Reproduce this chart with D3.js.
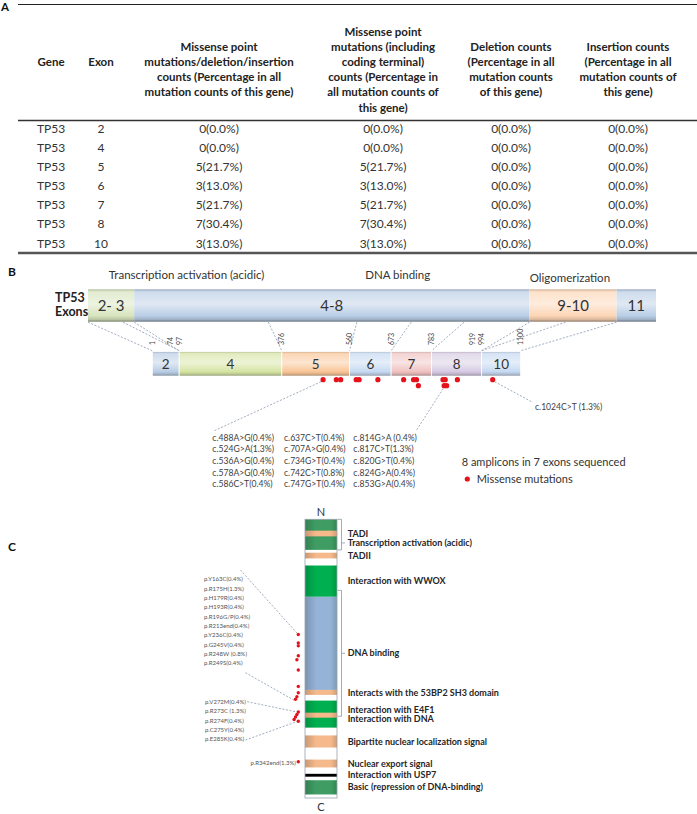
<!DOCTYPE html>
<html><head><meta charset="utf-8">
<script src="https://cdn.jsdelivr.net/npm/d3@7"></script>
<style>
body{margin:0;background:#fff;}
svg{display:block;font-family:Lato,"Liberation Sans",sans-serif;}
</style></head><body>
<svg id="chart" width="697" height="814"></svg>
<script>
// ================= DATA =================
// Panel A table
const tableHeaders = [
  ["Gene"], ["Exon"],
  ["Missense point","mutations/deletion/insertion","counts (Percentage in all","mutation counts of this gene)"],
  ["Missense point","mutations (including","coding terminal)","counts (Percentage in","all mutation counts of","this gene)"],
  ["Deletion counts","(Percentage in all","mutation counts","of this gene)"],
  ["Insertion counts","(Percentage in all","mutation counts of","this gene)"]
];
const tableGenes = ["TP53","TP53","TP53","TP53","TP53","TP53","TP53"];
const tableExons = ["2","4","5","6","7","8","10"];
const missenseDelInsCounts = [0,0,5,3,5,7,3];
const missenseInclTerminalCounts = [0,0,5,3,5,7,3];
const deletionCounts = [0,0,0,0,0,0,0];
const insertionCounts = [0,0,0,0,0,0,0];
const totalMutations = 23;

// Panel B
const domainTitles = ["Transcription activation (acidic)","DNA binding","Oligomerization"];
const domainTitleCenters = [206, 645, 1003];           // nucleotide position of title centre
const topSegLabels = ["2- 3","4-8","9-10","11"];
const topSegStarts = [1, 97, 919, 1100];
const topSegEnds   = [97, 919, 1100, 1182];
const exonLabels = ["2","4","5","6","7","8","10"];
const exonStarts = [1, 97, 376, 560, 673, 783, 994];
const exonEnds   = [74, 376, 560, 673, 783, 919, 1100];
const boundaryTicks = [1, 74, 97, 376, 560, 673, 783, 919, 994, 1100];
const cdnaMutPositions = [488,524,536,578,586,637,707,734,742,747,814,817,820,824,853,1024];
const cdnaMutLabels = ["c.488A>G(0.4%)","c.524G>A(1.3%)","c.536A>G(0.4%)","c.578A>G(0.4%)","c.586C>T(0.4%)",
  "c.637C>T(0.4%)","c.707A>G(0.4%)","c.734G>T(0.4%)","c.742C>T(0.8%)","c.747G>T(0.4%)",
  "c.814G>A (0.4%)","c.817C>T(1.3%)","c.820G>T(0.4%)","c.824G>A(0.4%)","c.853G>A(0.4%)",
  "c.1024C>T (1.3%)"];
const legendTexts = ["8 amplicons in 7 exons sequenced","Missense mutations"];

// Panel C
const proteinLength = 393;
const bandStarts = [1, 17, 48, 66, 110, 241, 256, 273, 305, 339, 359, 368];
const bandEnds   = [44, 25, 56, 110, 241, 248, 294, 280, 322, 350, 363, 388];
const bandTypes  = ["tad","motif","motif","bright","dna","motif","bright","motif","motif","motif","usp7","tad"];
const featureLabels = ["TADI","TADII","Interaction with WWOX","Interacts with the 53BP2 SH3 domain",
  "Interaction with E4F1","Interaction with DNA","Bipartite nuclear localization signal",
  "Nuclear export signal","Interaction with USP7","Basic (repression of DNA-binding)"];
const featureStarts = [17, 48, 66, 241, 256, 273, 305, 339, 359, 368];
const featureEnds   = [25, 56, 110, 248, 294, 280, 322, 350, 363, 388];
const bracketLabels = ["Transcription activation (acidic)","DNA binding"];
const bracketStarts = [1, 101];
const bracketEnds   = [44, 278];
const proteinMutLabels = ["p.Y163C(0.4%)","p.R175H(1.3%)","p.H179R(0.4%)","p.H193R(0.4%)","p.R196G/P(0.4%)",
  "p.R213end(0.4%)","p.Y236C(0.4%)","p.G245V(0.4%)","p.R248W (0.8%)","p.R249S(0.4%)",
  "p.V272M(0.4%)","p.R273C (1.3%)","p.R274F(0.4%)","p.C275Y(0.4%)","p.E285K(0.4%)","p.R342end(1.3%)"];
const proteinMutPositions = [163,175,179,193,196,213,236,245,248,249,272,273,274,275,285,342];

// ================= STYLE =================
const topColors  = ["#d7e4bd","#b9cde5","#fcd5b5","#b9cde5"];
const exonColors = ["#b9cde5","#d5e4a3","#f9c596","#c6d9f1","#efc2c1","#d6cae3","#c6d9f1"];
const bandColors = {tad:"#3f9d63", motif:"#f6b98c", bright:"#00b050", dna:"#95b3d7", usp7:"#000000"};
const RED = "#e3121b", DASH = "#8898b0", TXT = "#333";

// ================= DRAW =================
const svg = d3.select("#chart");
const defs = svg.append("defs");
function glossy(id, c){
  const g = defs.append("linearGradient").attr("id",id).attr("x1",0).attr("y1",0).attr("x2",0).attr("y2",1);
  const base = d3.color(c), light = d3.interpolateRgb(c,"#ffffff");
  [[0, base.darker(0.5)],[0.08, light(0.3)],[0.45, light(0.55)],[0.82, base],[0.93, base.darker(0.4)],[1, base.darker(1.6)]]
    .forEach(([o,col]) => g.append("stop").attr("offset",o).attr("stop-color",col));
}
const fmt = c => `${c}(${(c/totalMutations*100).toFixed(1)}%)`;

// ---------- Panel A ----------
svg.append("text").attr("x",1).attr("y",6.5).attr("dy","0.35em").attr("font-weight","bold").attr("font-size",11.5).attr("fill","#111").text("A");
svg.append("line").attr("x1",18).attr("x2",697).attr("y1",4.5).attr("y2",4.5).attr("stroke","#222").attr("stroke-width",1);
const colX = [51, 101, 219, 383, 511, 628];
const headLH = 15.2, headCenter = 69.5;
tableHeaders.forEach((lines,ci) => {
  const y0 = lines.length === 1 ? 62 : headCenter - (lines.length-1)*headLH/2;
  lines.forEach((t,li) => svg.append("text").attr("x",colX[ci]).attr("y",y0+li*headLH).attr("dy","0.35em")
    .attr("text-anchor","middle").attr("font-size",11.5).attr("font-weight","bold").attr("fill","#222").text(t));
});
svg.append("line").attr("x1",18).attr("x2",697).attr("y1",120.5).attr("y2",120.5).attr("stroke","#333").attr("stroke-width",1.3);
const rowY = d3.scalePoint().domain(d3.range(tableGenes.length)).range([128.3, 243.3]);
const cols = [tableGenes, tableExons, missenseDelInsCounts.map(fmt), missenseInclTerminalCounts.map(fmt), deletionCounts.map(fmt), insertionCounts.map(fmt)];
cols.forEach((vals,ci) => vals.forEach((v,ri) => svg.append("text").attr("x",colX[ci]).attr("y",rowY(ri)).attr("dy","0.35em")
  .attr("text-anchor","middle").attr("font-size",12).attr("fill",TXT).text(v)));
svg.append("line").attr("x1",18).attr("x2",697).attr("y1",253).attr("y2",253).attr("stroke","#555").attr("stroke-width",2.5);

// ---------- Panel B ----------
svg.append("text").attr("x",8).attr("y",272).attr("dy","0.35em").attr("font-weight","bold").attr("font-size",12).attr("fill","#111").text("B");
const topScale = d3.scaleLinear().domain([1,1182]).range([88,656]);
const topY = 289.3, topH = 32.4;
domainTitles.forEach((t,i) => svg.append("text").attr("x",topScale(domainTitleCenters[i])).attr("y", i===2 ? 278.3 : 275).attr("dy","0.35em")
  .attr("text-anchor","middle").attr("font-size",11.5).attr("fill",TXT).text(t));
topSegLabels.forEach((t,i) => {
  glossy("gt"+i, topColors[i]);
  const x0 = topScale(topSegStarts[i]), x1 = topScale(topSegEnds[i]);
  svg.append("rect").attr("x",x0).attr("y",topY).attr("width",x1-x0).attr("height",topH).attr("fill",`url(#gt${i})`);
  svg.append("text").attr("x",(x0+x1)/2).attr("y",topY+topH/2).attr("dy","0.35em").attr("text-anchor","middle")
    .attr("font-size",15).attr("fill",TXT).text(t);
});
svg.append("text").attr("x",55).attr("y",297.5).attr("dy","0.35em").attr("font-size",12.5).attr("font-weight","bold").attr("fill","#222").text("TP53");
svg.append("text").attr("x",55).attr("y",312).attr("dy","0.35em").attr("font-size",12.5).attr("font-weight","bold").attr("fill","#222").text("Exons");

// lower (sequenced exons) scale: skipped exons collapse to zero width
const pxPerNt = 0.368, lowX0 = 152.3;
const lowRange = [];
let cur = lowX0;
boundaryTicks.forEach((p,i) => {
  if (i>0) {
    const inside = exonStarts.some((s,k) => s <= boundaryTicks[i-1] && exonEnds[k] >= p);
    if (inside) cur += (p - boundaryTicks[i-1]) * pxPerNt;
  }
  lowRange.push(cur);
});
const lowScale = d3.scaleLinear().domain(boundaryTicks).range(lowRange);
const lowY = 351.7, lowH = 24.3;

// connectors between the two bars
boundaryTicks.forEach(p => svg.append("line").attr("x1",topScale(p)).attr("y1",topY+topH+0.5)
  .attr("x2",lowScale(p)).attr("y2",lowY-1).attr("stroke",DASH).attr("stroke-width",0.8).attr("stroke-dasharray","2,1.6"));

exonLabels.forEach((t,i) => {
  glossy("ge"+i, exonColors[i]);
  const x0 = lowScale(exonStarts[i]), x1 = lowScale(exonEnds[i]);
  svg.append("rect").attr("x",x0).attr("y",lowY).attr("width",x1-x0).attr("height",lowH).attr("fill",`url(#ge${i})`)
    .attr("stroke","#fff").attr("stroke-width",0.8);
  svg.append("text").attr("x",(x0+x1)/2).attr("y",lowY+lowH/2).attr("dy","0.35em").attr("text-anchor","middle")
    .attr("font-size",13.5).attr("fill",TXT).text(t);
});
boundaryTicks.forEach((p,i) => {
  let x = lowScale(p) + 2.5;
  if (i < boundaryTicks.length-1 && Math.abs(lowScale(boundaryTicks[i+1]) - lowScale(p)) < 1) x -= 9;
  svg.append("text").attr("transform",`translate(${x},345) rotate(-90)`).attr("font-size",7).attr("fill","#444").text(p);
});

// mutation dots (dodged into two rows)
const rowsLast = [-Infinity,-Infinity];
const bDots = cdnaMutPositions.map(p => {
  const x = lowScale(p);
  let row = rowsLast.findIndex(l => x - l >= 2.8);
  if (row < 0) row = rowsLast[0] <= rowsLast[1] ? 0 : 1;
  rowsLast[row] = x;
  return {p, x, y: 379.7 + row*6};
});
svg.selectAll(".bdot").data(bDots).join("circle").attr("cx",d=>d.x).attr("cy",d=>d.y).attr("r",2.6).attr("fill",RED);

// mutation label block
const blkX = [212.3, 284, 353.3], blkY0 = 437.7, blkDY = 11.6;
const blockTexts = [];
cdnaMutLabels.slice(0,15).forEach((t,i) => {
  const c = Math.floor(i/5), r = i%5;
  blockTexts.push(svg.append("text").attr("x",blkX[c]).attr("y",blkY0+r*blkDY).attr("dy","0.35em")
    .attr("font-size",8.6).attr("fill","#404040").text(t));
});
svg.append("text").attr("x",535).attr("y",407.3).attr("dy","0.35em").attr("font-size",8.6).attr("fill","#404040").text(cdnaMutLabels[15]);
const blockRight = d3.max(blockTexts.slice(10), s => s.node().getBBox().x + s.node().getBBox().width);
const dashLine = (x1,y1,x2,y2) => svg.append("line").attr("x1",x1).attr("y1",y1).attr("x2",x2).attr("y2",y2)
  .attr("stroke",DASH).attr("stroke-width",0.8).attr("stroke-dasharray","2,1.6");
const d0 = bDots[0], d8 = bDots.find(d => d.p === 817), dLast = bDots[bDots.length-1];
dashLine(d0.x-2, d0.y+2, blkX[0]+2, blkY0-7);
dashLine(d8.x-1, d8.y+3, blockRight, blkY0-8);
dashLine(dLast.x+2, dLast.y+2, 532, 402);

// legend
svg.append("text").attr("x",461.7).attr("y",462.3).attr("dy","0.35em").attr("font-size",11).attr("fill",TXT).text(legendTexts[0]);
svg.append("circle").attr("cx",467.3).attr("cy",479).attr("r",2.6).attr("fill",RED);
svg.append("text").attr("x",476.7).attr("y",479).attr("dy","0.35em").attr("font-size",11).attr("fill",TXT).text(legendTexts[1]);

// ---------- Panel C ----------
svg.append("text").attr("x",8).attr("y",547).attr("dy","0.35em").attr("font-weight","bold").attr("font-size",12).attr("fill","#111").text("C");
const yProt = d3.scaleLinear().domain([1, proteinLength]).range([519.3, 798]);
const cX = 305, cW = 32;
svg.append("text").attr("x",cX+cW/2).attr("y",512).attr("dy","0.35em").attr("text-anchor","middle").attr("font-size",11).attr("fill",TXT).text("N");
svg.append("text").attr("x",cX+cW/2).attr("y",807).attr("dy","0.35em").attr("text-anchor","middle").attr("font-size",11).attr("fill",TXT).text("C");
svg.append("rect").attr("x",cX).attr("y",yProt(1)).attr("width",cW).attr("height",yProt(proteinLength)-yProt(1)).attr("fill","#fff");
const hg = defs.append("linearGradient").attr("id","hshade").attr("x1",0).attr("x2",1).attr("y1",0).attr("y2",0);
[[0,0.18],[0.35,0],[0.8,0],[1,0.15]].forEach(([o,a]) => hg.append("stop").attr("offset",o).attr("stop-color","#000").attr("stop-opacity",a));
bandStarts.forEach((s,i) => {
  svg.append("rect").attr("x",cX).attr("y",yProt(s)).attr("width",cW).attr("height",yProt(bandEnds[i])-yProt(s))
    .attr("fill",bandColors[bandTypes[i]]);
  svg.append("rect").attr("x",cX).attr("y",yProt(s)).attr("width",cW).attr("height",yProt(bandEnds[i])-yProt(s))
    .attr("fill","url(#hshade)");
});
svg.append("rect").attr("x",cX).attr("y",yProt(1)).attr("width",cW).attr("height",yProt(proteinLength)-yProt(1))
  .attr("fill","none").attr("stroke","#9aa3ad").attr("stroke-width",0.8);

// labels with simple collision relaxation
const items = featureLabels.map((t,i) => ({text:t, y:yProt((featureStarts[i]+featureEnds[i])/2), bracket:false}))
  .concat(bracketLabels.map((t,i) => ({text:t, y:yProt((bracketStarts[i]+bracketEnds[i])/2), bracket:true, i})));
items.sort((a,b) => a.y - b.y);
const gap = 9.4;
for (let it=0; it<60; it++) for (let k=1;k<items.length;k++){
  const a = items[k-1], b = items[k], need = gap - (b.y - a.y);
  if (need > 0) {
    if (a.bracket && !b.bracket) a.y -= need;
    else if (b.bracket && !a.bracket) b.y += need;
    else { a.y -= need/2; b.y += need/2; }
  }
}
const brX = cX + cW + 4.5;
items.forEach(d => {
  svg.append("text").attr("x",347.7).attr("y",d.y).attr("dy","0.35em").attr("font-size",9).attr("font-weight","bold")
    .attr("fill","#262626").text(d.text);
  if (d.bracket) {
    const y0 = yProt(bracketStarts[d.i]), y1 = yProt(bracketEnds[d.i]);
    svg.append("path").attr("d",`M${brX-4},${y0}H${brX}V${y1}H${brX-4}M${brX},${d.y}H${brX+3.5}`)
      .attr("fill","none").attr("stroke","#9aa3ad").attr("stroke-width",0.9);
  }
});

// protein mutation dots (dodged)
const pDots = [];
proteinMutPositions.forEach((p,i) => {
  const y = yProt(p);
  const prev = pDots[pDots.length-1];
  const k = prev && y - prev.y0 < 2.5 ? prev.k + 1 : 0;
  pDots.push({p, y0:y, k, x: 298.3 - k*1.4, y: y + k*1.8});
});
svg.selectAll(".pdot").data(pDots).join("circle").attr("cx",d=>d.x).attr("cy",d=>d.y).attr("r",1.7).attr("fill",RED);

// protein mutation labels
const upTexts = [], lowTexts = [];
proteinMutLabels.slice(0,10).forEach((t,i) => upTexts.push(svg.append("text").attr("x",204).attr("y",579.3+i*9.33)
  .attr("dy","0.35em").attr("font-size",6).attr("fill","#555").text(t)));
proteinMutLabels.slice(10,15).forEach((t,i) => lowTexts.push(svg.append("text").attr("x",205).attr("y",701.7+i*9.4)
  .attr("dy","0.35em").attr("font-size",6).attr("fill","#555").text(t)));
const pLast = pDots[15];
svg.append("text").attr("x",pLast.x-2.5).attr("y",pLast.y+1).attr("dy","0.35em").attr("text-anchor","end")
  .attr("font-size",6).attr("fill","#555").text(proteinMutLabels[15]);
const right = s => { const b = s.node().getBBox(); return b.x + b.width; };
const upRight = d3.max(upTexts, right);
dashLine(upRight-10, 570, pDots[0].x-1, pDots[0].y-1);
dashLine(upRight-5, 672.7, pDots[9].x-1.5, pDots[9].y+1);
dashLine(right(lowTexts[0])+1, 701.7, pDots[10].x-1.5, pDots[10].y);
dashLine(right(lowTexts[4])+1, 740, pDots[14].x-1.5, pDots[14].y+0.5);
</script>
</body></html>
